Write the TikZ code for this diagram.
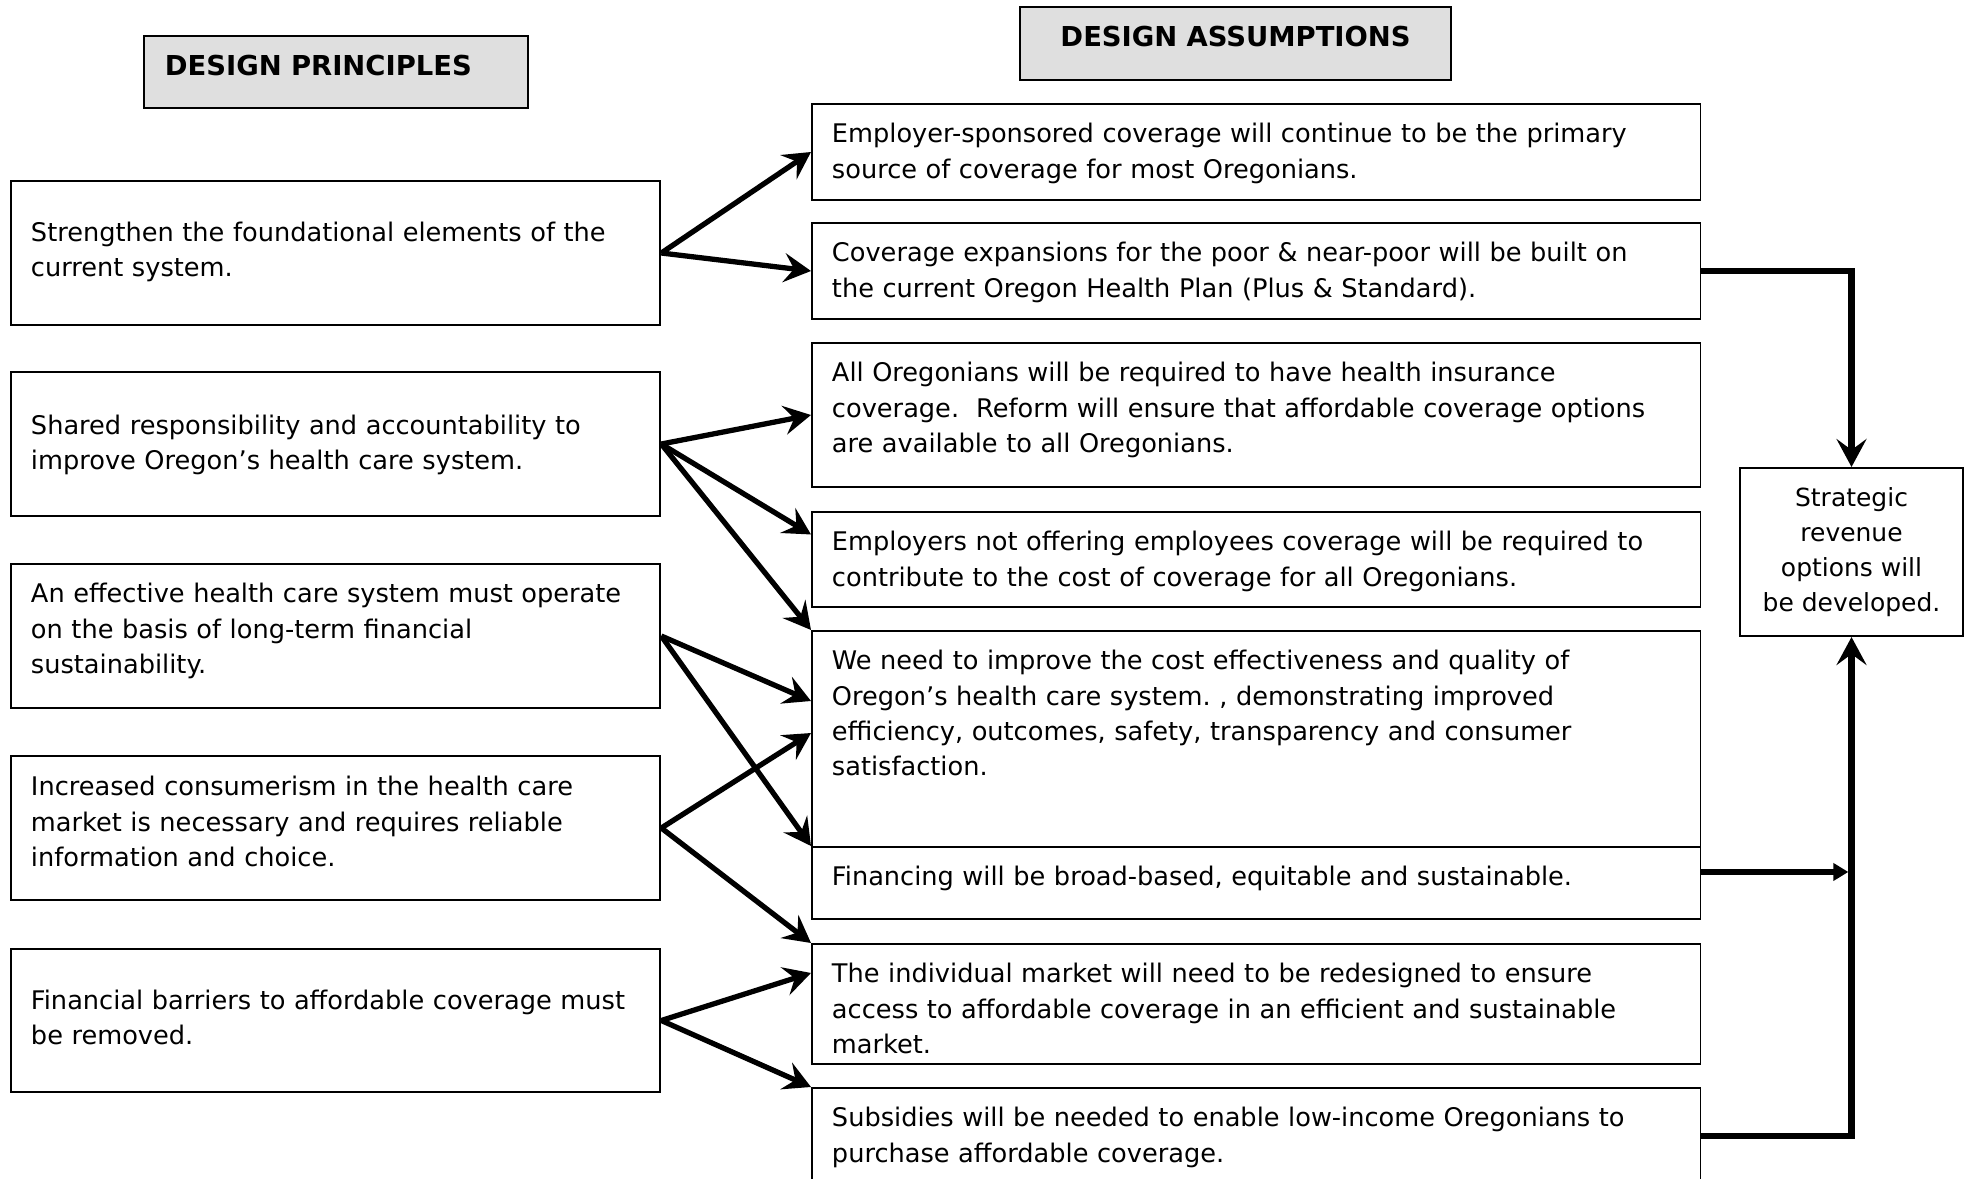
\documentclass[tikz,border=0pt]{standalone}
\usepackage{fontspec}
\setmainfont{DejaVu Sans}
\usetikzlibrary{arrows.meta}

\newcommand{\boxfont}{\fontsize{7.29pt}{9.96pt}\selectfont\frenchspacing}
\newcommand{\revfont}{\fontsize{7.1pt}{9.96pt}\selectfont}
\newcommand{\headfont}{\fontsize{7.8pt}{9.96pt}\selectfont\bfseries}

\begin{document}
\begin{tikzpicture}[x=0.01cm, y=-0.01cm,
  box/.style={rectangle, draw, line width=0.55pt, anchor=north west,
    inner xsep=0.2cm, inner ysep=0pt, align=left, font=\boxfont},
  principle/.style={box, text width=6.09cm},
  assumption/.style={box, text width=8.48cm, text height=0.39cm},
  heading/.style={box, fill=gray!25, font=\headfont, text height=0.4cm},
  link/.style={line width=1.5pt, -{Stealth[length=0.27cm, width=0.29cm, inset=0.1cm]}},
  feed/.style={line width=1.8pt, -{Stealth[length=0.28cm, width=0.3cm, inset=0.11cm]}}]

  \useasboundingbox (0,0) rectangle (1971,1179);

  % column headings
  \node[heading, text width=3.42cm, inner xsep=0.21cm, text depth=0.32cm] (hprin)
        at (143,35) {DESIGN PRINCIPLES};
  \node[heading, text width=3.91cm, align=center, text depth=0.33cm] (hassum)
        at (1019,6) {DESIGN ASSUMPTIONS};

  % design principles (left column)
  \node[principle, text height=0.60cm, text depth=0.84cm] (p1) at (10,180)
        {Strengthen the foundational elements of the\\current system.};
  \node[principle, text height=0.62cm, text depth=0.82cm] (p2) at (10,371)
        {Shared responsibility and accountability to\\improve Oregon’s health care system.};
  \node[principle, text height=0.39cm, text depth=1.05cm] (p3) at (10,563)
        {An effective health care system must operate\\on the basis of long-term financial\\sustainability.};
  \node[principle, text height=0.40cm, text depth=1.04cm] (p4) at (10,755)
        {Increased consumerism in the health care\\market is necessary and requires reliable\\information and choice.};
  \node[principle, text height=0.60cm, text depth=0.83cm] (p5) at (10,948)
        {Financial barriers to affordable coverage must\\be removed.};

  % design assumptions (right column)
  \node[assumption, text depth=0.57cm] (a1) at (811,103)
        {Employer-sponsored coverage will continue to be the primary\\source of coverage for most Oregonians.};
  \node[assumption, text depth=0.57cm] (a2) at (811,222)
        {Coverage expansions for the poor \& near-poor will be built on\\the current Oregon Health Plan (Plus \& Standard).};
  \node[assumption, text depth=1.05cm] (a3) at (811,342)
        {All Oregonians will be required to have health insurance\\coverage.\ \ Reform will ensure that affordable coverage options\\are available to all Oregonians.};
  \node[assumption, text depth=0.56cm] (a4) at (811,511)
        {Employers not offering employees coverage will be required to\\contribute to the cost of coverage for all Oregonians.};
  \node[assumption, text depth=1.77cm] (a5) at (811,630)
        {We need to improve the cost effectiveness and quality of\\Oregon’s health care system. , demonstrating improved\\efficiency, outcomes, safety, transparency and consumer\\satisfaction.};
  \node[assumption, text depth=0.33cm] (a6) at (811,846)
        {Financing will be broad-based, equitable and sustainable.};
  \node[assumption, text depth=0.81cm] (a7) at (811,943)
        {The individual market will need to be redesigned to ensure\\access to affordable coverage in an efficient and sustainable\\market.};
  \node[assumption, text depth=0.57cm] (a8) at (811,1087)
        {Subsidies will be needed to enable low-income Oregonians to\\purchase affordable coverage.};

  % revenue box
  \node[box, align=center, font=\revfont, minimum width=2.23cm, minimum height=1.68cm, inner xsep=0pt] (rev)
        at (1739,467) {Strategic\\revenue\\options will\\be developed.};

  % principles feeding assumptions
  \draw[link] (p1.east) -- (a1.west);
  \draw[link] (p1.east) -- (a2.west);
  \draw[link] (p2.east) -- (a3.west);
  \draw[link] (p2.east) -- ([yshift=0.25cm]a4.west);
  \draw[link] (p2.east) -- (a5.north west);
  \draw[link] (p3.east) -- ([yshift=0.38cm]a5.west);
  \draw[link] (p3.east) -- (a6.north west);
  \draw[link] (p4.east) -- ([yshift=0.06cm]a5.west);
  \draw[link] (p4.east) -- (a7.north west);
  \draw[link] (p5.east) -- ([yshift=0.31cm]a7.west);
  \draw[link] (p5.east) -- (a8.north west);

  % funding lines into the revenue box
  \draw[feed] (a2.east) -| (rev.north);
  \draw[feed] (a8.east) -| (rev.south);
  \draw[line width=1.5pt, -{Triangle[length=0.15cm, width=0.17cm]}, shorten >=0.9pt]
        ([yshift=0.11cm]a6.east) -- ([yshift=0.11cm]a6.east -| rev.south);

\end{tikzpicture}
\end{document}
